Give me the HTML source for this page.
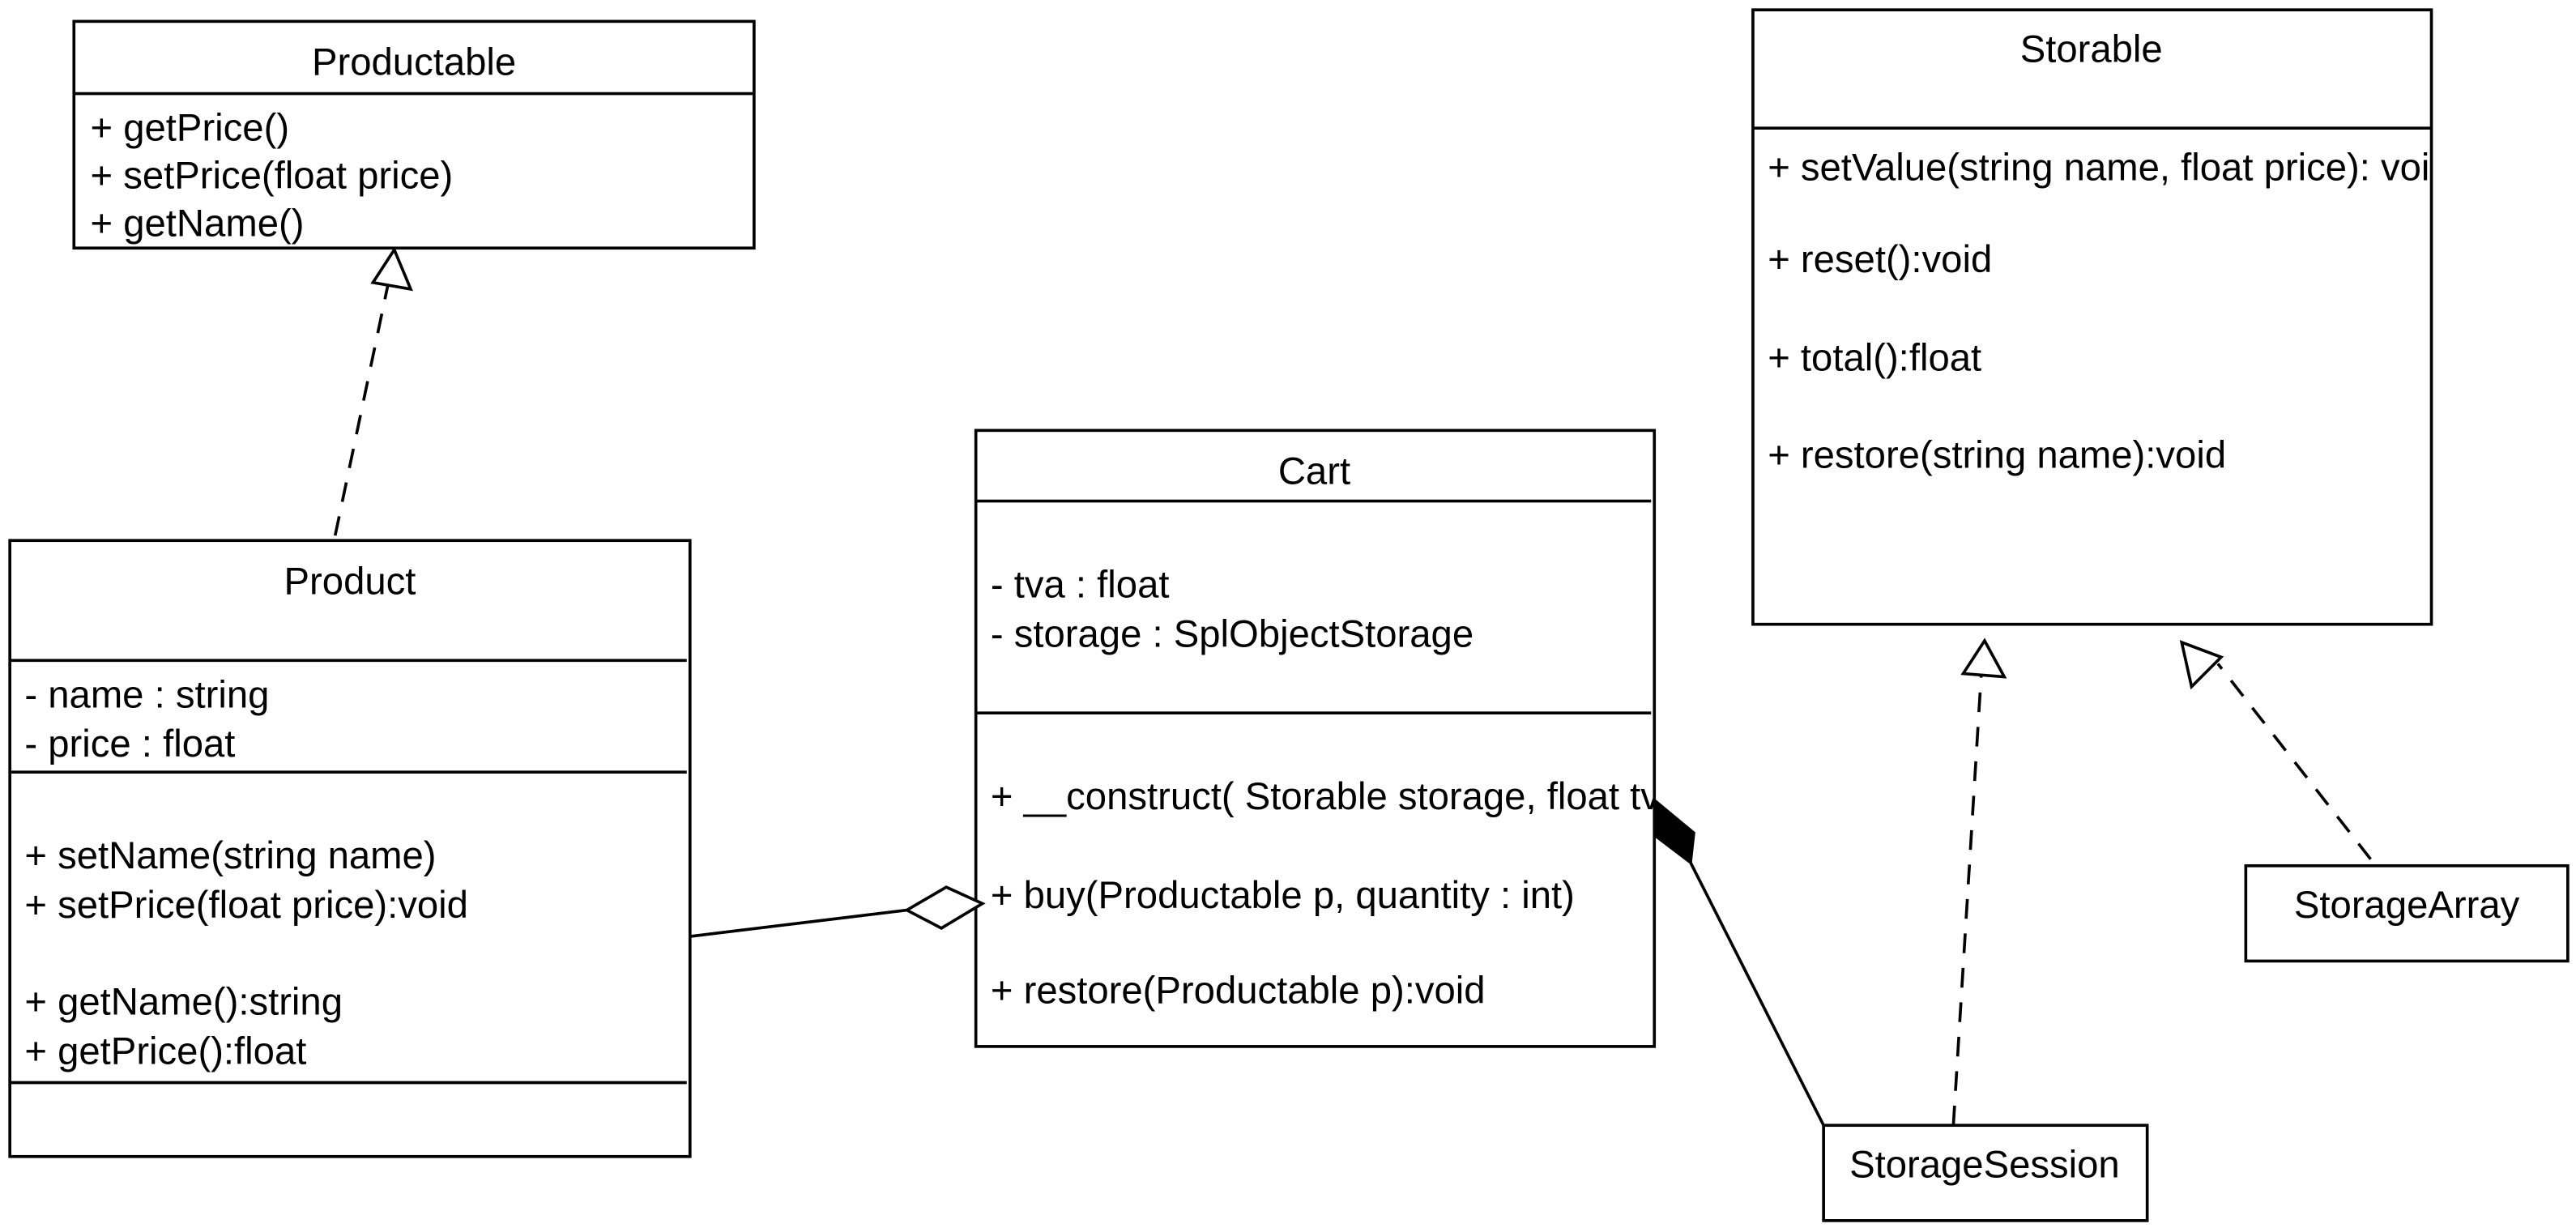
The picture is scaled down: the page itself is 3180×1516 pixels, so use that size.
<!DOCTYPE html>
<html><head><meta charset="utf-8"><style>
html,body{margin:0;padding:0;background:#fff;}
svg{display:block;}
text{font-family:"Liberation Sans",Arial,sans-serif;font-size:23.3px;fill:#000;}
</style></head><body>
<svg width="3180" height="1516" viewBox="0 0 1568 747.5" xmlns="http://www.w3.org/2000/svg">
<defs>
<clipPath id="cc"><rect x="594" y="262" width="413" height="375"/></clipPath>
<clipPath id="sc"><rect x="1067" y="6" width="413" height="374"/></clipPath>
</defs>
<g fill="none" stroke="#000" stroke-width="1.8">
<rect x="45" y="13" width="414" height="138" fill="#fff"/>
<line x1="45" y1="57" x2="459" y2="57"/>
<rect x="6" y="329" width="414" height="375" fill="#fff"/>
<line x1="6" y1="402" x2="418" y2="402"/>
<line x1="6" y1="470" x2="418" y2="470"/>
<line x1="6" y1="659" x2="418" y2="659"/>
<rect x="594" y="262" width="413" height="375" fill="#fff"/>
<line x1="594" y1="305" x2="1005" y2="305"/>
<line x1="594" y1="434" x2="1005" y2="434"/>
<rect x="1067" y="6" width="413" height="374" fill="#fff"/>
<line x1="1067" y1="78" x2="1480" y2="78"/>
<rect x="1367" y="527" width="196" height="58" fill="#fff"/>
<rect x="1110" y="685" width="197" height="58" fill="#fff"/>
<line x1="204" y1="326" x2="236" y2="174" stroke-dasharray="12,9"/>
<polygon points="240,152 227,172 250,176" fill="#fff"/>
<line x1="420" y1="570" x2="552" y2="554"/>
<polygon points="552,554 576,540 598,550 573,565" fill="#fff"/>
<polygon points="1008,488 1031,507 1029,525 1008,509" fill="#000"/>
<line x1="1029" y1="525" x2="1110" y2="685"/>
<line x1="1189" y1="685" x2="1206" y2="410" stroke-dasharray="12,9"/>
<polygon points="1208,390 1195,410 1220,412" fill="#fff"/>
<line x1="1443" y1="523" x2="1350" y2="404" stroke-dasharray="12,9"/>
<polygon points="1328,391 1334,418 1352,400" fill="#fff"/>
</g>
<g dominant-baseline="central">
<text x="252" y="38" text-anchor="middle">Productable</text>
<text x="55" y="78">+ getPrice()</text>
<text x="55" y="107">+ setPrice(float price)</text>
<text x="55" y="136">+ getName()</text>

<text x="213" y="354" text-anchor="middle">Product</text>
<text x="15" y="423">- name : string</text>
<text x="15" y="453">- price : float</text>
<text x="15" y="521">+ setName(string name)</text>
<text x="15" y="551">+ setPrice(float price):void</text>
<text x="15" y="610">+ getName():string</text>
<text x="15" y="640">+ getPrice():float</text>

<g clip-path="url(#cc)">
<text x="800" y="287" text-anchor="middle">Cart</text>
<text x="603" y="356">- tva : float</text>
<text x="603" y="386">- storage : SplObjectStorage</text>
<text x="603" y="485">+ __construct( Storable storage, float tva)</text>
<text x="603" y="545">+ buy(Productable p, quantity : int)</text>
<text x="603" y="603">+ restore(Productable p):void</text>
</g>

<g clip-path="url(#sc)">
<text x="1273" y="30" text-anchor="middle">Storable</text>
<text x="1076" y="102">+ setValue(string name, float price): void</text>
<text x="1076" y="158">+ reset():void</text>
<text x="1076" y="218">+ total():float</text>
<text x="1076" y="277">+ restore(string name):void</text>
</g>

<text x="1465" y="551" text-anchor="middle">StorageArray</text>
<text x="1208" y="709" text-anchor="middle">StorageSession</text>
</g>
</svg>
</body></html>
